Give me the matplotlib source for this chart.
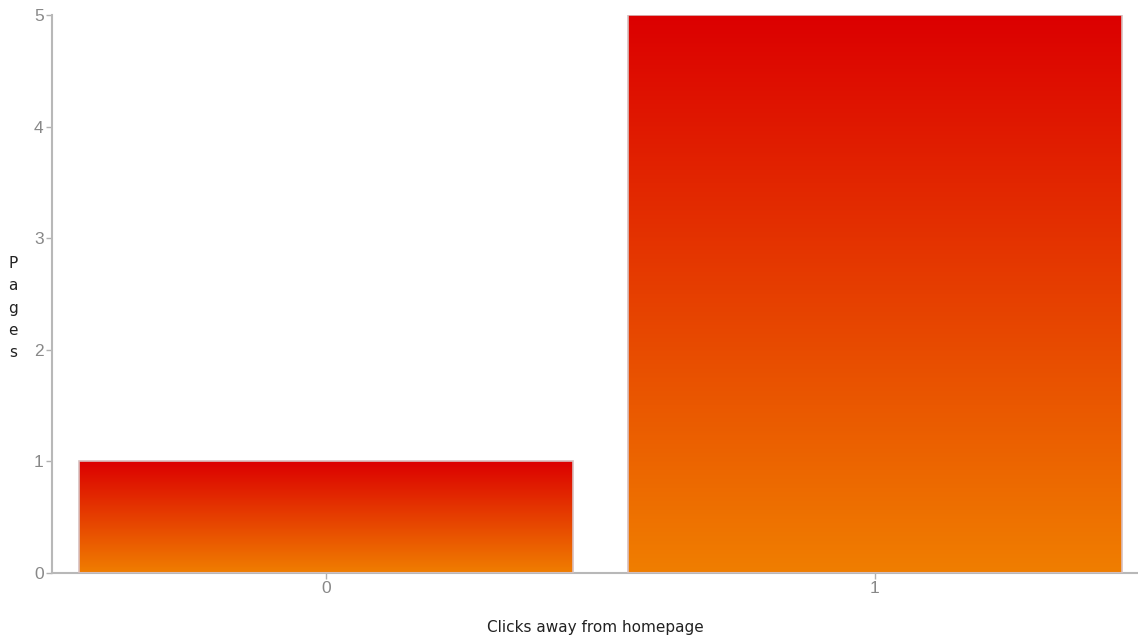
import numpy as np
import matplotlib.pyplot as plt
from matplotlib.colors import LinearSegmentedColormap

categories = ['0', '1']
pages = [1, 5]

top_color = '#dc0000'
bottom_color = '#f07e00'
cmap = LinearSegmentedColormap.from_list('redorange', [bottom_color, top_color])

fig = plt.figure(figsize=(11.38, 6.38), dpi=100)
ax = fig.add_axes([52 / 1138, 65 / 638, 1086 / 1138, 558 / 638])

x = np.arange(len(categories))
bars = ax.bar(x, pages, width=0.9, color='none', edgecolor='#d8c0c0', linewidth=1.2, zorder=3)

# each bar gets its own vertical gradient, clipped to the bar
grad = np.linspace(0, 1, 256).reshape(-1, 1)
for b in bars:
    x0, y0 = b.get_x(), b.get_y()
    w, h = b.get_width(), b.get_height()
    im = ax.imshow(grad, cmap=cmap, origin='lower', aspect='auto',
                   extent=[x0, x0 + w, y0, y0 + h], zorder=2)
    im.set_clip_path(b)

ax.set_xlim(-0.5, 1.48)
ax.set_ylim(0, 5)
ax.set_xticks(x)
ax.set_xticklabels(categories)
ax.set_yticks(range(0, 6))

for s in ['top', 'right']:
    ax.spines[s].set_visible(False)
for s in ['left', 'bottom']:
    ax.spines[s].set_color('#b8b8b8')
    ax.spines[s].set_linewidth(1.5)

ax.tick_params(colors='#b0b0b0', labelcolor='#888888', length=4, width=1,
               labelsize=12.5, labelfontfamily='Liberation Sans', pad=2)

ax.set_xlabel('Clicks away from homepage', fontsize=11, color='#222222', labelpad=17)
fig.text(13 / 1138, 1 - 308 / 638, '\n'.join('Pages'), fontsize=11, color='#222222',
         ha='center', va='center', linespacing=1.6)

fig.savefig('out.png', dpi=100)
